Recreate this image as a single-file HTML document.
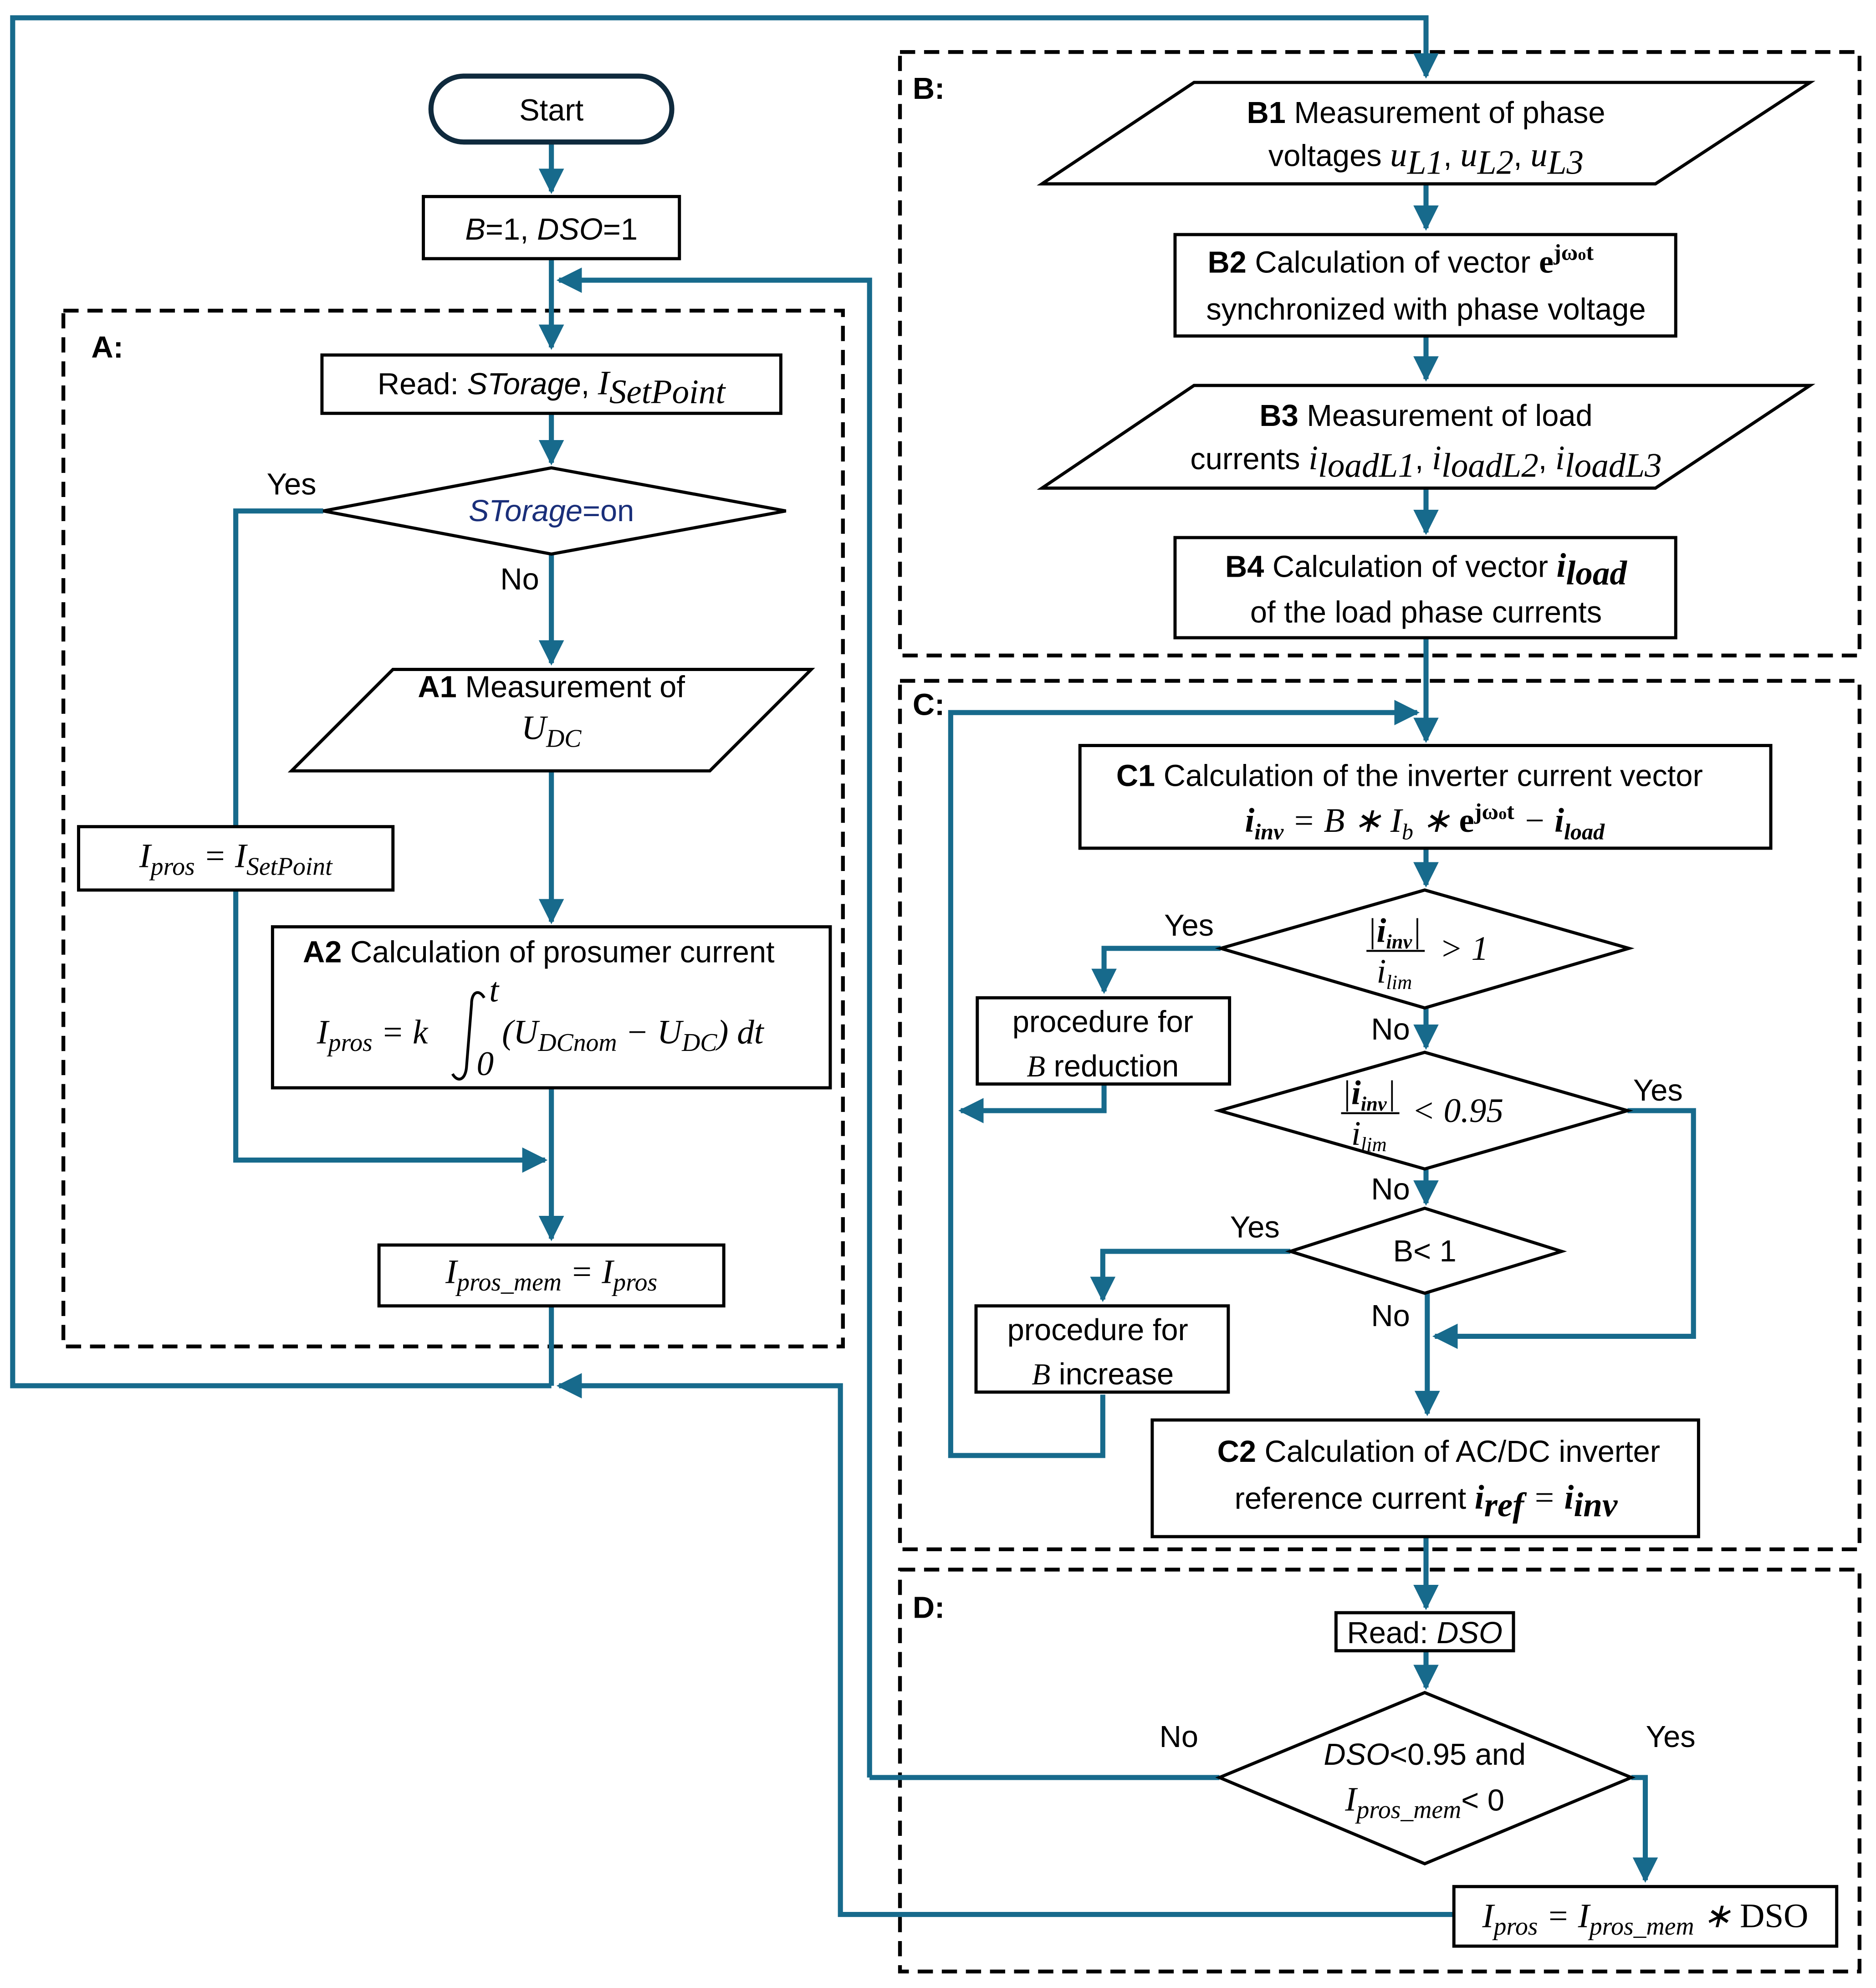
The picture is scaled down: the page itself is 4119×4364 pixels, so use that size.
<!DOCTYPE html>
<html><head><meta charset="utf-8"><style>
html,body{margin:0;padding:0;background:#fff}
svg{display:block}
.t{font-family:"Liberation Sans",sans-serif;font-size:24px;fill:#000}
.m{font-family:"Liberation Serif",serif;font-size:27px;font-style:italic;fill:#000}
.c{stroke:#176a8c;stroke-width:4;fill:none}
.b{stroke:#000;stroke-width:2.5;fill:#fff}
.d{stroke:#000;stroke-width:3;fill:none;stroke-dasharray:12 7}
</style></head><body>
<svg width="4119" height="4364" viewBox="0 0 1480 1568" xmlns="http://www.w3.org/2000/svg">
<defs><marker id="a" markerWidth="5" markerHeight="5" refX="4.5" refY="2.5" orient="auto" markerUnits="strokeWidth"><path d="M0,0 L5,2.5 L0,5 z" fill="#176a8c"/></marker></defs>
<rect width="1480" height="1568" fill="#fff"/>
<rect class="d" x="50" y="245" width="615" height="817"/>
<rect class="d" x="710" y="41" width="757" height="476"/>
<rect class="d" x="710" y="537" width="757" height="685"/>
<rect class="d" x="710" y="1238" width="757" height="317"/>
<text class="t" x="72" y="282" font-weight="bold">A:</text>
<text class="t" x="720" y="78" font-weight="bold">B:</text>
<text class="t" x="720" y="564" font-weight="bold">C:</text>
<text class="t" x="720" y="1276" font-weight="bold">D:</text>
<path class="c" d="M435,1093 H10 V14 H1125 V60" marker-end="url(#a)"/>
<path class="c" d="M435,112 V151" marker-end="url(#a)"/>
<path class="c" d="M435,204 V274" marker-end="url(#a)"/>
<path class="c" d="M686,1402 V221 H441" marker-end="url(#a)"/>
<path class="c" d="M435,326 V365" marker-end="url(#a)"/>
<path class="c" d="M255,403 H186 V915 H430" marker-end="url(#a)"/>
<path class="c" d="M435,437 V523" marker-end="url(#a)"/>
<path class="c" d="M435,608 V727" marker-end="url(#a)"/>
<path class="c" d="M435,858 V977" marker-end="url(#a)"/>
<path class="c" d="M435,1030 V1093"/>
<path class="c" d="M1147,1510 H663 V1093 H441" marker-end="url(#a)"/>
<path class="c" d="M1125,145 V180" marker-end="url(#a)"/>
<path class="c" d="M1125,265 V299" marker-end="url(#a)"/>
<path class="c" d="M1125,385 V420" marker-end="url(#a)"/>
<path class="c" d="M1125,503 V584" marker-end="url(#a)"/>
<path class="c" d="M870,1100 V1148 H750 V562 H1118" marker-end="url(#a)"/>
<path class="c" d="M1125,669 V698" marker-end="url(#a)"/>
<path class="c" d="M963,748 H871 V782" marker-end="url(#a)"/>
<path class="c" d="M871,855 V876 H758" marker-end="url(#a)"/>
<path class="c" d="M1125,795 V826" marker-end="url(#a)"/>
<path class="c" d="M1284,876 H1336 V1054 H1132" marker-end="url(#a)"/>
<path class="c" d="M1125,922 V949" marker-end="url(#a)"/>
<path class="c" d="M1018,987 H870 V1025" marker-end="url(#a)"/>
<path class="c" d="M1126,1020 V1115" marker-end="url(#a)"/>
<path class="c" d="M1125,1212 V1268" marker-end="url(#a)"/>
<path class="c" d="M1125,1302 V1331" marker-end="url(#a)"/>
<path class="c" d="M962,1402 H686"/>
<path class="c" d="M1287,1402 H1298 V1483" marker-end="url(#a)"/>
<rect x="340" y="60" width="190" height="52" rx="26" fill="#fff" stroke="#0f2a3d" stroke-width="4"/>
<text class="t" x="435" y="95" text-anchor="middle">Start</text>
<rect class="b" x="334" y="155" width="202" height="49"/>
<text class="t" x="435" y="189" text-anchor="middle"><tspan font-style="italic">B</tspan>=1, <tspan font-style="italic">DSO</tspan>=1</text>
<rect class="b" x="254" y="280" width="362" height="46"/>
<text class="t" x="435" y="311" text-anchor="middle">Read: <tspan font-style="italic">STorage</tspan>, <tspan class="m">I</tspan><tspan class="m" font-size="20" dy="7">SetPoint</tspan></text>
<polygon class="b" points="255,403 435,369 620,403 435,437"/>
<text class="t" x="435" y="411" text-anchor="middle" font-style="italic" style="fill:#1a2f7a">STorage<tspan font-style="normal">=on</tspan></text>
<text class="t" x="230" y="390" text-anchor="middle">Yes</text>
<text class="t" x="410" y="465" text-anchor="middle">No</text>
<rect class="b" x="62" y="652" width="248" height="50"/>
<text class="m" x="186" y="684" text-anchor="middle">I<tspan font-size="20" dy="6">pros</tspan><tspan dy="-6"> = I</tspan><tspan font-size="20" dy="6">SetPoint</tspan></text>
<polygon class="b" points="230,608 310,528 640,528 560,608"/>
<text class="t" x="435" y="550" text-anchor="middle"><tspan font-weight="bold">A1</tspan> Measurement of</text>
<text class="m" x="435" y="583" text-anchor="middle">U<tspan font-size="20" dy="6">DC</tspan></text>
<rect class="b" x="215" y="731" width="440" height="127"/>
<text class="t" x="425" y="759" text-anchor="middle"><tspan font-weight="bold">A2</tspan> Calculation of prosumer current</text>
<text class="m" x="250" y="823">I<tspan font-size="20" dy="6">pros</tspan><tspan dy="-6"> = k</tspan></text>
<path d="M382,787 C378,780 372,782 372,792 L368,842 C367,852 361,854 357,847" stroke="#000" stroke-width="2.2" fill="none"/>
<text class="m" x="386" y="790" font-size="18">t</text>
<text class="m" x="376" y="848" font-size="18" font-style="normal">0</text>
<text class="m" x="396" y="823">(U<tspan font-size="20" dy="6">DCnom</tspan><tspan dy="-6"> − U</tspan><tspan font-size="20" dy="6">DC</tspan><tspan dy="-6">) dt</tspan></text>
<rect class="b" x="299" y="982" width="272" height="48"/>
<text class="m" x="435" y="1012" text-anchor="middle">I<tspan font-size="20" dy="6">pros_mem</tspan><tspan dy="-6"> = I</tspan><tspan font-size="20" dy="6">pros</tspan></text>
<polygon class="b" points="822,145 942,65 1428,65 1306,145"/>
<text class="t" x="1125" y="97" text-anchor="middle"><tspan font-weight="bold">B1</tspan> Measurement of phase</text>
<text class="t" x="1125" y="131" text-anchor="middle">voltages <tspan class="m">u</tspan><tspan class="m" font-size="18" dy="6">L1</tspan><tspan dy="-6">, </tspan><tspan class="m">u</tspan><tspan class="m" font-size="18" dy="6">L2</tspan><tspan dy="-6">, </tspan><tspan class="m">u</tspan><tspan class="m" font-size="18" dy="6">L3</tspan></text>
<rect class="b" x="927" y="185" width="395" height="80"/>
<text class="t" x="1105" y="215" text-anchor="middle"><tspan font-weight="bold">B2</tspan> Calculation of vector <tspan font-weight="bold" font-family="Liberation Serif" font-size="26">e</tspan><tspan font-size="18" dy="-10" font-weight="bold" font-family="Liberation Serif">jω<tspan font-size="13">o</tspan>t</tspan></text>
<text class="t" x="1125" y="252" text-anchor="middle">synchronized with phase voltage</text>
<polygon class="b" points="822,385 942,304 1428,304 1306,385"/>
<text class="t" x="1125" y="336" text-anchor="middle"><tspan font-weight="bold">B3</tspan> Measurement of load</text>
<text class="t" x="1125" y="370" text-anchor="middle">currents <tspan class="m">i</tspan><tspan class="m" font-size="18" dy="6">loadL1</tspan><tspan dy="-6">, </tspan><tspan class="m">i</tspan><tspan class="m" font-size="18" dy="6">loadL2</tspan><tspan dy="-6">, </tspan><tspan class="m">i</tspan><tspan class="m" font-size="18" dy="6">loadL3</tspan></text>
<rect class="b" x="927" y="424" width="395" height="79"/>
<text class="t" x="1125" y="455" text-anchor="middle"><tspan font-weight="bold">B4</tspan> Calculation of vector <tspan class="m" font-weight="bold">i</tspan><tspan class="m" font-weight="bold" font-size="18" dy="6">load</tspan></text>
<text class="t" x="1125" y="491" text-anchor="middle">of the load phase currents</text>
<rect class="b" x="852" y="588" width="545" height="81"/>
<text class="t" x="1112" y="620" text-anchor="middle"><tspan font-weight="bold">C1</tspan> Calculation of the inverter current vector</text>
<text class="m" x="1124" y="656" text-anchor="middle"><tspan font-weight="bold">i</tspan><tspan font-weight="bold" font-size="18" dy="6">inv</tspan><tspan dy="-6"> = B ∗ I</tspan><tspan font-size="18" dy="6">b</tspan><tspan dy="-6"> ∗ </tspan><tspan font-weight="bold" font-style="normal">e</tspan><tspan font-weight="bold" font-style="normal" font-size="18" dy="-10">jω<tspan font-size="13">o</tspan>t</tspan><tspan dy="10"> − </tspan><tspan font-weight="bold">i</tspan><tspan font-weight="bold" font-size="18" dy="6">load</tspan></text>
<polygon class="b" points="963,748 1124,702 1285,748 1124,795"/>
<text class="m" x="1100" y="743" text-anchor="middle" font-size="22">|<tspan font-weight="bold">i</tspan><tspan font-weight="bold" font-size="16" dy="5">inv</tspan><tspan dy="-5">|</tspan></text>
<line x1="1078" y1="750" x2="1124" y2="750" stroke="#000" stroke-width="1.5"/>
<text class="m" x="1100" y="775" text-anchor="middle" font-size="22">i<tspan font-size="16" dy="5">lim</tspan></text>
<text class="m" x="1155" y="757" text-anchor="middle" font-size="24">&gt; 1</text>
<text class="t" x="938" y="738" text-anchor="middle">Yes</text>
<rect class="b" x="771" y="787" width="199" height="68"/>
<text class="t" x="870" y="814" text-anchor="middle">procedure for</text>
<text class="t" x="870" y="849" text-anchor="middle"><tspan font-style="italic" font-family="Liberation Serif">B</tspan> reduction</text>
<text class="t" x="1097" y="820" text-anchor="middle">No</text>
<polygon class="b" points="962,876 1124,830 1284,876 1124,922"/>
<text class="m" x="1080" y="871" text-anchor="middle" font-size="22">|<tspan font-weight="bold">i</tspan><tspan font-weight="bold" font-size="16" dy="5">inv</tspan><tspan dy="-5">|</tspan></text>
<line x1="1058" y1="878" x2="1104" y2="878" stroke="#000" stroke-width="1.5"/>
<text class="m" x="1080" y="903" text-anchor="middle" font-size="22">i<tspan font-size="16" dy="5">lim</tspan></text>
<text class="m" x="1150" y="885" text-anchor="middle" font-size="24">&lt; 0.95</text>
<text class="t" x="1308" y="868" text-anchor="middle">Yes</text>
<text class="t" x="1097" y="946" text-anchor="middle">No</text>
<polygon class="b" points="1018,987 1124,953 1232,987 1124,1020"/>
<text class="t" x="1124" y="995" text-anchor="middle">B&lt; 1</text>
<text class="t" x="990" y="976" text-anchor="middle">Yes</text>
<text class="t" x="1097" y="1046" text-anchor="middle">No</text>
<rect class="b" x="770" y="1030" width="199" height="68"/>
<text class="t" x="866" y="1057" text-anchor="middle">procedure for</text>
<text class="t" x="870" y="1092" text-anchor="middle"><tspan font-style="italic" font-family="Liberation Serif">B</tspan> increase</text>
<rect class="b" x="909" y="1120" width="431" height="92"/>
<text class="t" x="1135" y="1153" text-anchor="middle"><tspan font-weight="bold">C2</tspan> Calculation of AC/DC inverter</text>
<text class="t" x="1125" y="1190" text-anchor="middle">reference current <tspan class="m" font-weight="bold">i</tspan><tspan class="m" font-weight="bold" font-size="18" dy="6">ref</tspan><tspan class="m" dy="-6"> = </tspan><tspan class="m" font-weight="bold">i</tspan><tspan class="m" font-weight="bold" font-size="18" dy="6">inv</tspan></text>
<rect class="b" x="1054" y="1272" width="140" height="30"/>
<text class="t" x="1124" y="1296" text-anchor="middle">Read: <tspan font-style="italic">DSO</tspan></text>
<polygon class="b" points="962,1402 1124,1335 1287,1402 1124,1470"/>
<text class="t" x="1124" y="1392" text-anchor="middle"><tspan font-style="italic">DSO</tspan>&lt;0.95 and</text>
<text class="m" x="1124" y="1428" text-anchor="middle">I<tspan font-size="20" dy="6">pros_mem</tspan><tspan dy="-6" font-style="normal" font-family="Liberation Sans" font-size="24">&lt; 0</tspan></text>
<text class="t" x="930" y="1378" text-anchor="middle">No</text>
<text class="t" x="1318" y="1378" text-anchor="middle">Yes</text>
<rect class="b" x="1147" y="1488" width="302" height="47"/>
<text class="m" x="1298" y="1520" text-anchor="middle">I<tspan font-size="20" dy="6">pros</tspan><tspan dy="-6"> = I</tspan><tspan font-size="20" dy="6">pros_mem</tspan><tspan dy="-6"> ∗ </tspan><tspan font-style="normal">DSO</tspan></text>
</svg>
</body></html>
